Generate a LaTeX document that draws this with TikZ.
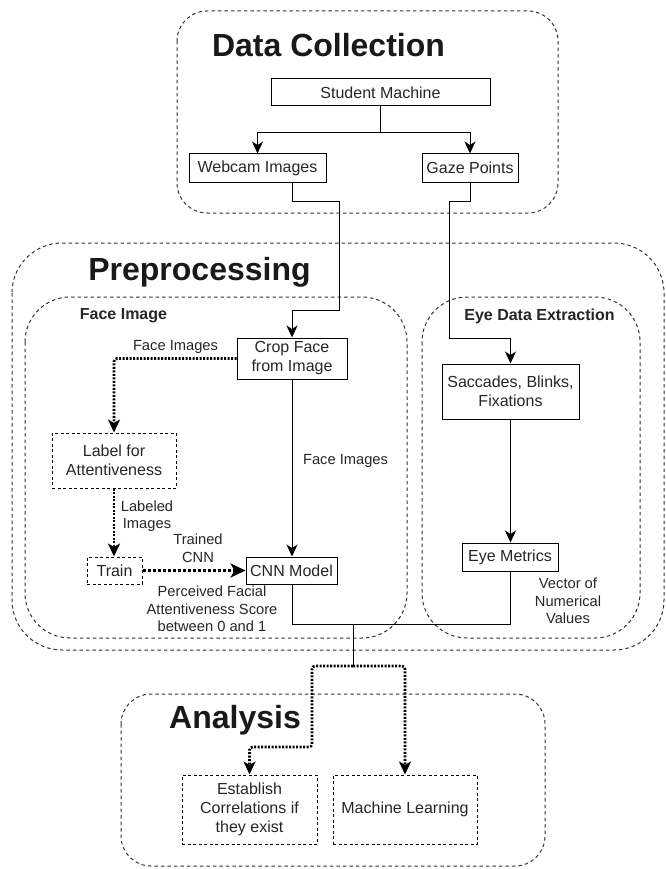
\documentclass[tikz,border=0pt]{standalone}
\usepackage{fontspec}
\setmainfont{Liberation Sans}
\usetikzlibrary{arrows.meta}
\begin{document}
\begin{tikzpicture}[x=1pt,y=-1pt,
  txt/.style={text=black!85, font=\fontsize{16}{19}\selectfont, align=center},
  lbl/.style={text=black!85, font=\fontsize{14.7}{17.5}\selectfont, align=center, inner sep=0pt},
  box/.style={txt, draw=black, line width=1pt, fill=white, inner sep=0pt},
  dbox/.style={box, dash pattern=on 3pt off 2.5pt},
  grp/.style={draw=black!80, line width=1pt, dash pattern=on 3.5pt off 3pt},
  title/.style={font=\fontsize{32}{36}\selectfont\bfseries, text=black!90, inner sep=0pt},
  sub/.style={font=\fontsize{16}{19}\selectfont\bfseries, text=black!85, inner sep=0pt},
  line/.style={draw=black, line width=1pt},
  arr/.style={line, -{Stealth[length=12pt,width=11pt,inset=3.5pt]}},
  dotarr/.style={draw=black, line width=2.6pt, dash pattern=on 2pt off 1.5pt, rounded corners=3pt, -{Stealth[length=13pt,width=12pt,inset=3.5pt]}},
  bigdot/.style={draw=black, line width=3.5pt, dash pattern=on 3pt off 2pt, -{Stealth[length=15pt,width=14pt,inset=4pt]}}
]
\useasboundingbox (0,0) rectangle (665,869);

% group containers
\draw[grp, rounded corners=30pt] (177,11) rectangle (558,213);
\draw[grp, rounded corners=50pt] (12,243) rectangle (664,650);
\draw[grp, rounded corners=45pt] (25,297) rectangle (407,638);
\draw[grp, rounded corners=45pt] (422,297) rectangle (640,638);
\draw[grp, rounded corners=30pt] (121,694) rectangle (545,866);

% titles
\node[title] (tdc) at (328.5,45) {Data Collection};
\node[title] (tpp) at (199.5,272) {Preprocessing};
\node[title] (tan) at (235,720) {Analysis};
\node[sub] (tfi) at (123.5,316) {Face Image};
\node[sub] (ted) at (539.5,316) {Eye Data Extraction};

% nodes
\node[box, minimum width=219pt, minimum height=27pt] (sm) at (380.5,92.5) {Student Machine};
\node[box, minimum width=137pt, minimum height=28pt] (wi) at (257.5,168) {Webcam Images};
\node[box, minimum width=96pt, minimum height=28pt] (gp) at (470,168) {Gaze Points};
\node[box, minimum width=110pt, minimum height=41pt] (crop) at (292,358.5) {Crop Face\\from Image};
\node[dbox, minimum width=124pt, minimum height=55pt] (lab) at (114,460.5) {Label for\\Attentiveness};
\node[dbox, minimum width=55pt, minimum height=27pt] (train) at (114.5,570.5) {Train};
\node[box, minimum width=91pt, minimum height=27pt] (cnn) at (291.5,570.5) {CNN Model};
\node[box, minimum width=137pt, minimum height=55pt] (sac) at (510.5,391.5) {Saccades, Blinks,\\Fixations};
\node[box, minimum width=96pt, minimum height=28pt] (em) at (510,557) {Eye Metrics};
\node[dbox, minimum width=135pt, minimum height=69pt] (est) at (249.5,809.5) {Establish\\Correlations if\\they exist};
\node[dbox, minimum width=144pt, minimum height=69pt] (ml) at (405,809.5) {Machine Learning};

% connectors
\draw[arr] (sm.south) -- (380.5,133) -| (wi.north);
\draw[arr] (sm.south) -- (380.5,133) -| (gp.north);
\draw[arr] (crop |- wi.south) -- (292,201) -- (339,201) -- (339,310) -- (292,310) -- (crop.north);
\draw[arr] (gp.south) -- (470,201) -- (449,201) -- (449,338) -- (510.5,338) -- (sac.north);
\draw[arr] (sac.south) -- (sac.south |- em.north);
\draw[dotarr] (crop.west) -| (lab.north);
\draw[arr] (crop.south) -- (crop.south |- cnn.north);
\draw[dotarr] (lab.south) -- (lab.south |- train.north);
\draw[bigdot] (train.east) -- (cnn.west);
\draw[line] (cnn.south -| crop.south) -- (292,624) -- (510,624) -- (em.south);
\coordinate (j1) at (353,624);
\coordinate (j2) at (353,666);
\draw[line] (j1) -- (j2);
\draw[dotarr] (j2) -- (312,666) -- (312,747) -- (249.5,747) -- (est.north);
\draw[dotarr] (j2) -- (405,666) -- (ml.north);

% labels
\node[lbl] (l1) at (175.5,347) {Face Images};
\node[lbl] (l2) at (345.5,461) {Face Images};
\node[lbl] (l3) at (147,516) {Labeled\\Images};
\node[lbl] (l4) at (198,548) {Trained\\CNN};
\node[lbl] (l5) at (212,609) {Perceived Facial\\Attentiveness Score\\between 0 and 1};
\node[lbl] (l6) at (568,601) {Vector of\\Numerical\\Values};
\end{tikzpicture}
\end{document}
